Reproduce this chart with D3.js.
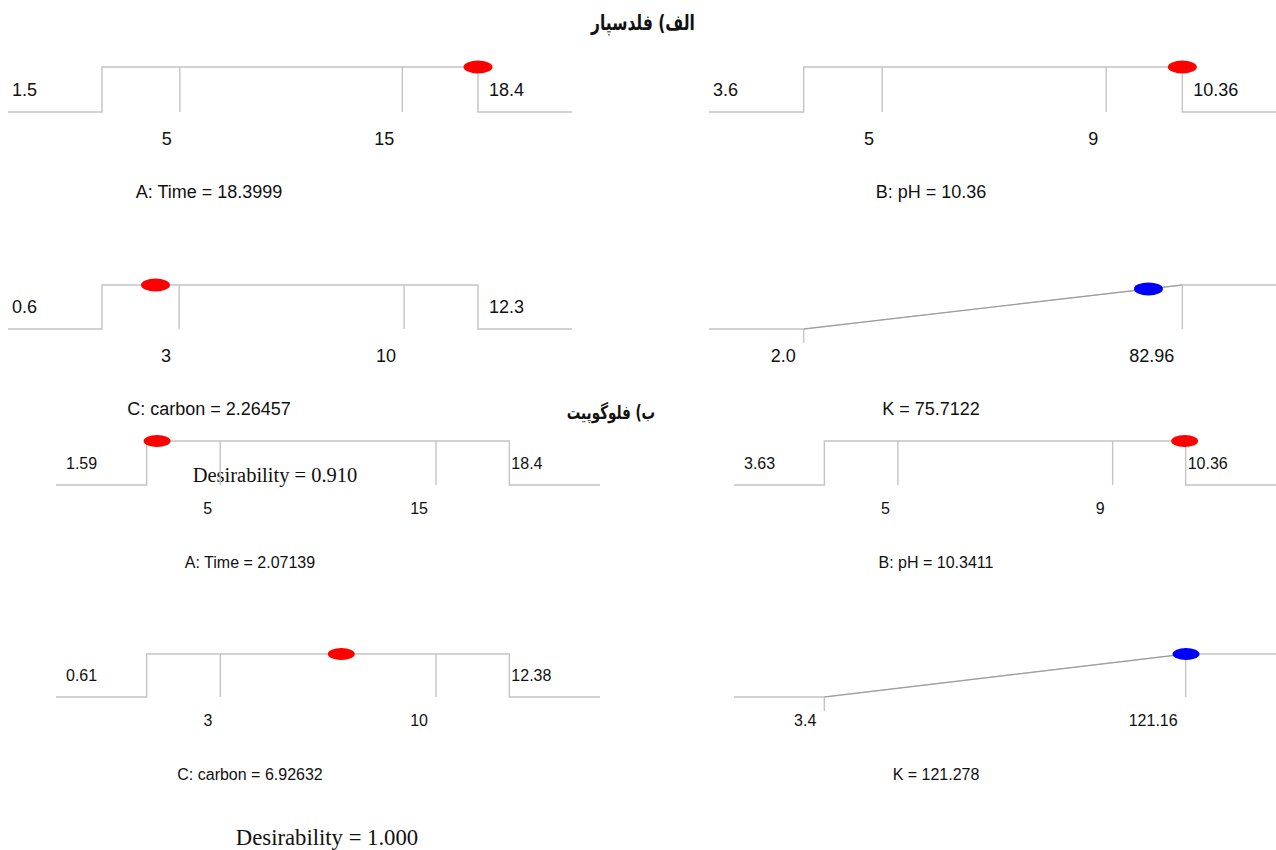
<!DOCTYPE html>
<html>
<head>
<meta charset="utf-8">
<script src="https://cdn.jsdelivr.net/npm/d3@7"></script>
<style>
  body { margin: 0; background: #fff; }
  svg text { font-family: "Liberation Sans", Arial, sans-serif; fill: #111; }
  .heading { font-family: "DejaVu Sans", sans-serif !important; font-weight: bold; }
  .desir { font-family: "Liberation Serif", "Times New Roman", serif !important; }
</style>
</head>
<body>
<div id="chart"></div>
<script>
// factor / response names shared by both ramps
const factorNames = ["A: Time", "B: pH", "C: carbon", "K"];
const panelKinds = ["factor", "factor", "factor", "response"];
const groupTitles = ["الف) فلدسپار", "ب) فلوگوپیت"];

// الف) feldspar
const feldLow = [1.5, 3.6, 0.6, 2.0];
const feldHigh = [18.4, 10.36, 12.3, 82.96];
const feldLowLabels = ["1.5", "3.6", "0.6", "2.0"];
const feldHighLabels = ["18.4", "10.36", "12.3", "82.96"];
const feldTicks = [[5, 15], [5, 9], [3, 10], []];
const feldValues = [18.3999, 10.36, 2.26457, 75.7122];
const feldDesirability = 0.910;

// ب) phlogopite
const phlogLow = [1.59, 3.63, 0.61, 3.4];
const phlogHigh = [18.4, 10.36, 12.38, 121.16];
const phlogLowLabels = ["1.59", "3.63", "0.61", "3.4"];
const phlogHighLabels = ["18.4", "10.36", "12.38", "121.16"];
const phlogTicks = [[5, 15], [5, 9], [3, 10], []];
const phlogValues = [2.07139, 10.3411, 6.92632, 121.278];
const phlogDesirability = 1.000;

const width = 1276;
const height = 850;

const svg = d3.select("#chart")
  .append("svg")
  .attr("width", width)
  .attr("height", height)
  .attr("viewBox", [0, 0, width, height]);

// layout of the two pasted figures (the lower one is a bit smaller)
const layouts = [
  {
    cols: [{ x0: 8, w: 564, titleX: 209 }, { x0: 709, w: 568, titleX: 931 }],
    rows: [{ top: 67, base: 112 }, { top: 285, base: 329 }],
    font: 18, tickDy: 33, titleDy: 86, leftPad: 4, rightPad: 11,
    rx: 14.5, ry: 6.5,
    heading: { x: 643, y: 30, size: 15.5 },
    desir: { x: 275, y: 482, size: 20.5 }
  },
  {
    cols: [{ x0: 56, w: 544, titleX: 250 }, { x0: 734, w: 542, titleX: 936 }],
    rows: [{ top: 441, base: 485 }, { top: 654, base: 697 }],
    font: 16, tickDy: 29, titleDy: 83, leftPad: 10, rightPad: 2,
    rx: 13.5, ry: 6,
    heading: { x: 611, y: 419, size: 13.5 },
    desir: { x: 327, y: 845, size: 22.7 }
  }
];

const groups = [
  { low: feldLow, high: feldHigh, lowLabels: feldLowLabels, highLabels: feldHighLabels,
    ticks: feldTicks, values: feldValues, desirability: feldDesirability },
  { low: phlogLow, high: phlogHigh, lowLabels: phlogLowLabels, highLabels: phlogHighLabels,
    ticks: phlogTicks, values: phlogValues, desirability: phlogDesirability }
];

const lineColor = "#c4c4c4";

function drawPanel(g, grp, L, i) {
  const col = L.cols[i % 2];
  const row = L.rows[Math.floor(i / 2)];
  const lo = grp.low[i], hi = grp.high[i], v = grp.values[i];
  const pad = (hi - lo) * 0.25;
  const x = d3.scaleLinear().domain([lo - pad, hi + pad]).range([col.x0, col.x0 + col.w]);
  const y = d3.scaleLinear().domain([0, 1]).range([row.base, row.top]);
  const line = d3.line().x(d => x(d[0])).y(d => y(d[1]));
  const [dMin, dMax] = x.domain();
  const isResponse = panelKinds[i] === "response";

  const pts = isResponse
    ? [[dMin, 0], [lo, 0], [hi, 1], [dMax, 1]]
    : [[dMin, 0], [lo, 0], [lo, 1], [hi, 1], [hi, 0], [dMax, 0]];

  g.append("path")
    .attr("d", line(pts))
    .attr("fill", "none")
    .attr("stroke", lineColor)
    .attr("stroke-width", 1.4);

  if (isResponse) {
    // darker ramp between low and high limits
    g.append("path")
      .attr("d", line([[lo, 0], [hi, 1]]))
      .attr("stroke", "#9a9a9a")
      .attr("stroke-width", 1);
    g.append("line")
      .attr("x1", x(lo)).attr("x2", x(lo))
      .attr("y1", y(0)).attr("y2", y(0) + 14)
      .attr("stroke", lineColor).attr("stroke-width", 1.4);
    g.append("line")
      .attr("x1", x(hi)).attr("x2", x(hi))
      .attr("y1", y(1)).attr("y2", y(0))
      .attr("stroke", lineColor).attr("stroke-width", 1.4);
    g.selectAll(".rlabel")
      .data([[lo, grp.lowLabels[i]], [hi, grp.highLabels[i]]])
      .enter()
      .append("text")
        .attr("class", "rlabel")
        .attr("x", d => x(d[0]) - 8)
        .attr("y", row.base + L.tickDy)
        .attr("text-anchor", "end")
        .attr("font-size", L.font)
        .text(d => d[1]);
  } else {
    g.selectAll(".tick")
      .data(grp.ticks[i])
      .enter()
      .append("line")
        .attr("class", "tick")
        .attr("x1", d => x(d)).attr("x2", d => x(d))
        .attr("y1", y(1)).attr("y2", y(0))
        .attr("stroke", lineColor)
        .attr("stroke-width", 1.4);
    g.selectAll(".tlabel")
      .data(grp.ticks[i])
      .enter()
      .append("text")
        .attr("class", "tlabel")
        .attr("x", d => x(d) - 8)
        .attr("y", row.base + L.tickDy)
        .attr("text-anchor", "end")
        .attr("font-size", L.font)
        .text(d => d);
    const midY = (y(0) + y(1)) / 2 + L.font * 0.36;
    g.append("text")
      .attr("x", col.x0 + L.leftPad)
      .attr("y", midY)
      .attr("font-size", L.font)
      .text(grp.lowLabels[i]);
    g.append("text")
      .attr("x", x(hi) + L.rightPad)
      .attr("y", midY)
      .attr("font-size", L.font)
      .text(grp.highLabels[i]);
  }

  // desirability of the current setting
  const d = isResponse
    ? Math.max(0, Math.min(1, (v - lo) / (hi - lo)))
    : (v >= lo && v <= hi ? 1 : 0);
  g.append("ellipse")
    .attr("cx", x(Math.min(Math.max(v, dMin), dMax)))
    .attr("cy", y(d))
    .attr("rx", L.rx)
    .attr("ry", L.ry)
    .attr("fill", isResponse ? "#0000ff" : "#ff0000");

  g.append("text")
    .attr("x", col.titleX)
    .attr("y", row.base + L.titleDy)
    .attr("text-anchor", "middle")
    .attr("font-size", L.font)
    .text(`${factorNames[i]} = ${v}`);
}

groups.forEach((grp, gi) => {
  const L = layouts[gi];
  const g = svg.append("g");
  factorNames.forEach((name, i) => drawPanel(g.append("g"), grp, L, i));

  // Persian heading: narrow font, stretched vertically to the original height
  g.append("text")
    .attr("class", "heading")
    .attr("transform", `translate(${L.heading.x},${L.heading.y}) scale(1,1.4)`)
    .attr("text-anchor", "middle")
    .attr("direction", "rtl")
    .attr("font-size", L.heading.size)
    .text(groupTitles[gi]);

  g.append("text")
    .attr("class", "desir")
    .attr("x", L.desir.x)
    .attr("y", L.desir.y)
    .attr("text-anchor", "middle")
    .attr("font-size", L.desir.size)
    .text(`Desirability = ${d3.format(".3f")(grp.desirability)}`);
});
</script>
</body>
</html>
